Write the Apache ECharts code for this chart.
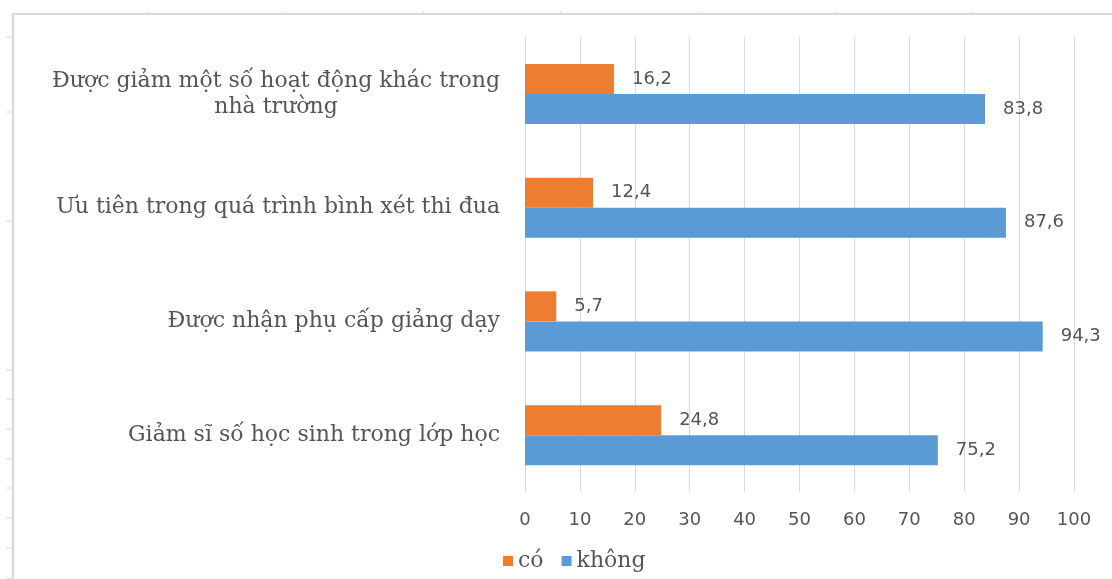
<!DOCTYPE html>
<html>
<head>
<meta charset="utf-8">
<script src="https://cdn.jsdelivr.net/npm/echarts@6/dist/echarts.min.js"></script>
<style>
  html, body { margin: 0; padding: 0; background: #ffffff; }
  #chart { width: 1112px; height: 579px; }
</style>
</head>
<body>
<div id="chart"></div>
<script>
// Categories listed bottom-to-top (category axis starts at the bottom)
const categories = [
  'Giảm sĩ số học sinh trong lớp học',
  'Được nhận phụ cấp giảng dạy',
  'Ưu tiên trong quá trình bình xét thi đua',
  'Được giảm một số hoạt động khác trong\nnhà trường'
];
const seriesNames = ['có', 'không'];
const coValues = [24.8, 5.7, 12.4, 16.2];
const khongValues = [75.2, 94.3, 87.6, 83.8];
const xMin = 0;
const xMax = 100;
const xStep = 10;

const serifFont = '"DejaVu Serif", "Liberation Serif", serif';
const sansFont = '"DejaVu Sans", Verdana, sans-serif';
const textGray = '#555555';
const gridGray = '#d9d9d9';

const fmt = v => v.toFixed(1).replace('.', ',');

const chart = echarts.init(document.getElementById('chart'), null, { renderer: 'canvas' });

// light sheet frame around the chart
const frameColor = '#dadada';
const frame = [
  { type: 'line', shape: { x1: 12, y1: 14, x2: 1112, y2: 14 }, style: { stroke: frameColor, lineWidth: 2 }, silent: true },
  { type: 'line', shape: { x1: 13, y1: 14, x2: 13, y2: 579 }, style: { stroke: frameColor, lineWidth: 2.5 }, silent: true }
];
[37, 112, 221, 370, 399, 429, 459, 488, 518, 548, 578].forEach(y => {
  frame.push({ type: 'line', shape: { x1: 6, y1: y, x2: 12, y2: y }, style: { stroke: frameColor, lineWidth: 1 }, silent: true });
});
[149, 286, 423, 561, 698, 835, 973].forEach(x => {
  frame.push({ type: 'line', shape: { x1: x, y1: 11, x2: x, y2: 14 }, style: { stroke: frameColor, lineWidth: 1 }, silent: true });
});

const valueLabel = {
  show: true, position: 'right', distance: 18,
  formatter: p => fmt(p.value),
  fontFamily: sansFont, fontSize: 18, color: textGray
};

const option = {
  animation: false,
  backgroundColor: '#ffffff',
  graphic: frame,
  grid: { left: 525, right: 38, top: 37, bottom: 87, containLabel: false },
  legend: {
    data: seriesNames,
    left: 498,
    top: 545,
    icon: 'rect',
    itemWidth: 10,
    itemHeight: 10,
    itemGap: 18,
    textStyle: { fontFamily: serifFont, fontSize: 22, color: textGray }
  },
  xAxis: {
    type: 'value',
    min: xMin,
    max: xMax,
    interval: xStep,
    axisLine: { show: false },
    axisTick: { show: false },
    splitLine: { show: true, lineStyle: { color: gridGray, width: 1 } },
    axisLabel: { margin: 19, fontFamily: sansFont, fontSize: 18, color: textGray }
  },
  yAxis: {
    type: 'category',
    data: categories,
    axisLine: { show: true, lineStyle: { color: gridGray, width: 1 } },
    axisTick: { show: false },
    splitLine: { show: false },
    axisLabel: {
      margin: 25,
      color: textGray,
      fontFamily: serifFont,
      fontSize: 22,
      formatter: v => v.split('\n').map(s => '{c|' + s + '}').join('\n'),
      rich: {
        c: { align: 'center', fontFamily: serifFont, fontSize: 22, color: textGray, lineHeight: 26 }
      }
    }
  },
  series: [
    {
      name: seriesNames[0],
      type: 'bar',
      data: coValues,
      barWidth: 30,
      barGap: '0%',
      itemStyle: { color: '#ed7d31' },
      label: valueLabel
    },
    {
      name: seriesNames[1],
      type: 'bar',
      data: khongValues,
      barWidth: 30,
      barGap: '0%',
      itemStyle: { color: '#5b9bd5' },
      label: valueLabel
    }
  ]
};

chart.setOption(option);
</script>
</body>
</html>
